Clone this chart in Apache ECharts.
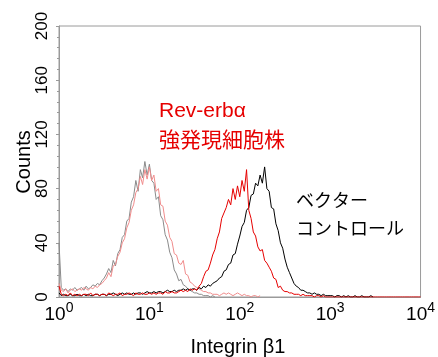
<!DOCTYPE html>
<html>
<head>
<meta charset="utf-8">
<script src="https://cdn.jsdelivr.net/npm/echarts@6/dist/echarts.min.js"></script>
<style>
  html, body { margin: 0; padding: 0; background: #fff; }
</style>
</head>
<body>
<div id="chart" style="width: 438px; height: 357px;"></div>
<script>
// histogram channel width, in decades of the log axis
const step = 0.025;
const decadeTicks = [0, 1, 2, 3, 4];

// isotype control, vector cells (gray)
const grayCounts = [
  40, 7, 5, 6, 4, 6, 5, 7, 5, 6,
  7, 5, 8, 6, 7, 9, 8, 10, 9, 12,
  14, 17, 21, 18, 27, 23, 32, 35, 44, 46,
  56, 58, 70, 74, 86, 78, 94, 88, 100, 90,
  98, 86, 84, 72, 74, 60, 57, 46, 42, 33,
  29, 20, 17, 12, 13, 9, 8, 6, 5, 4,
  3, 3, 2, 2, 1, 1, 1, 0, 1, 0
];
// isotype control, Rev-erbα cells (pink)
const pinkCounts = [
  10, 5, 4, 6, 3, 5, 6, 4, 5, 6,
  5, 7, 6, 5, 7, 6, 8, 7, 9, 10,
  12, 14, 18, 15, 23, 24, 30, 33, 40, 43,
  51, 55, 64, 68, 77, 80, 89, 83, 94, 87,
  96, 86, 90, 78, 80, 68, 67, 56, 53, 44,
  41, 32, 31, 25, 24, 27, 17, 16, 11, 10,
  8, 7, 6, 5, 4, 4, 3, 3, 2, 2,
  2, 1, 2, 3, 2, 3, 2, 1, 2, 3,
  2, 1, 2, 1, 1, 0, 1, 1, 0, 1
];
// vector control (black)
const vectorCounts = [
  3, 1, 2, 1, 1, 2, 1, 1, 2, 1,
  1, 2, 1, 2, 1, 1, 2, 2, 1, 2,
  2, 1, 2, 2, 3, 2, 1, 2, 3, 2,
  3, 2, 2, 3, 2, 3, 3, 2, 3, 4,
  3, 3, 4, 3, 4, 4, 3, 4, 5, 4,
  4, 5, 4, 5, 5, 6, 5, 6, 5, 6,
  6, 5, 7, 6, 8, 7, 9, 8, 10, 11,
  12, 14, 15, 19, 20, 24, 25, 31, 32, 39,
  45, 52, 55, 64, 66, 75, 76, 84, 82, 90,
  84, 96, 80, 78, 66, 65, 54, 49, 40, 36,
  28, 22, 18, 14, 10, 8, 7, 5, 5, 4,
  3, 3, 2, 3, 2, 2, 1, 2, 1, 1,
  1, 1, 0, 1, 1, 0, 1, 0, 1, 0,
  0, 1, 0, 0, 1, 0, 0, 0, 1, 0
];
// Rev-erbα overexpressing cells (red)
const revCounts = [
  8, 2, 1, 2, 1, 3, 1, 2, 1, 2,
  1, 2, 2, 1, 3, 1, 2, 2, 1, 2,
  2, 1, 3, 2, 1, 2, 2, 3, 1, 2,
  2, 3, 2, 1, 3, 2, 2, 3, 2, 2,
  3, 2, 3, 2, 3, 3, 2, 4, 3, 3,
  4, 3, 3, 4, 5, 4, 5, 4, 6, 5,
  6, 5, 8, 10, 15, 19, 20, 25, 31, 35,
  43, 48, 58, 62, 66, 72, 68, 80, 72, 82,
  74, 86, 78, 94, 64, 58, 48, 45, 37, 34,
  35, 27, 25, 22, 19, 14, 13, 7, 8, 5,
  4, 4, 3, 3, 2, 2, 2, 1, 2, 1,
  1, 1, 1, 0, 1, 1, 0, 1, 0, 0,
  0, 0, 0, 0, 0, 0, 0, 0, 0, 0,
  0, 0, 0, 0, 0, 0, 0, 0, 0, 0,
  0, 0, 0, 0, 0, 0, 0, 0, 0, 0,
  0, 0, 0, 0, 0, 0, 0, 0, 0, 0,
  0
];

function toPairs(counts) {
  return counts.map(function (c, i) { return [i * step, c]; });
}

const latin = "'Liberation Sans', Arial, sans-serif";
const cjk = "'Noto Sans CJK JP', sans-serif";

function histLine(name, counts, color) {
  return {
    name: name,
    type: "line",
    data: toPairs(counts),
    showSymbol: false,
    symbol: "none",
    lineStyle: { width: 1, color: color },
    itemStyle: { color: color },
    silent: true
  };
}

var myChart = echarts.init(document.getElementById("chart"));
let option = {
  animation: false,
  backgroundColor: "#fff",
  grid: {
    left: 59, right: 15, top: 26, bottom: 60,
    show: true, borderColor: "#9a9a9a", borderWidth: 1
  },
  xAxis: {
    type: "value",
    min: 0, max: 4, interval: 1,
    axisLine: { show: true, lineStyle: { color: "#9a9a9a" } },
    axisTick: { show: false },
    splitLine: { show: false },
    axisLabel: {
      margin: 3,
      formatter: function (v) {
        return decadeTicks.indexOf(v) >= 0 ? "{b|10}{s|" + v + "}" : "";
      },
      rich: {
        b: { fontSize: 19, fontFamily: latin, color: "#000", verticalAlign: "bottom", lineHeight: 24 },
        s: { fontSize: 14, fontFamily: latin, color: "#000", verticalAlign: "bottom", lineHeight: 24, padding: [0, 0, 9, 0] }
      }
    }
  },
  yAxis: {
    type: "value",
    min: 0, max: 200, interval: 40,
    axisLine: { show: true, lineStyle: { color: "#9a9a9a" } },
    axisTick: { show: true, length: 3, lineStyle: { color: "#9a9a9a" } },
    minorTick: { show: true, splitNumber: 5, length: 2, lineStyle: { color: "#9a9a9a" } },
    splitLine: { show: false },
    axisLabel: {
      rotate: 90,
      margin: 8,
      fontSize: 17,
      fontFamily: latin,
      color: "#000"
    }
  },
  graphic: [
    { type: "text", rotation: Math.PI / 2, x: 24, y: 162,
      style: { text: "Counts", font: "20px " + latin, fill: "#000", align: "center", verticalAlign: "middle" } },
    { type: "text", x: 238, y: 347,
      style: { text: "Integrin β1", font: "20px " + latin, fill: "#000", align: "center", verticalAlign: "middle" } },
    { type: "text", x: 159, y: 111,
      style: { text: "Rev-erbα", font: "21px " + latin, fill: "#e60000", verticalAlign: "middle" } },
    { type: "text", x: 159, y: 139,
      style: { text: "強発現細胞株", font: "21px " + cjk, fill: "#e60000", verticalAlign: "middle" } },
    { type: "text", x: 296, y: 200,
      style: { text: "ベクター", font: "18px " + cjk, fill: "#000", verticalAlign: "middle" } },
    { type: "text", x: 296, y: 228,
      style: { text: "コントロール", font: "18px " + cjk, fill: "#000", verticalAlign: "middle" } }
  ],
  series: [
    histLine("isotype vector", grayCounts, "#8a8a8a"),
    histLine("isotype Rev-erbα", pinkCounts, "#f08c8c"),
    histLine("vector control", vectorCounts, "#000000"),
    histLine("Rev-erbα", revCounts, "#e60000")
  ]
};
myChart.setOption(option);
</script>
</body>
</html>
